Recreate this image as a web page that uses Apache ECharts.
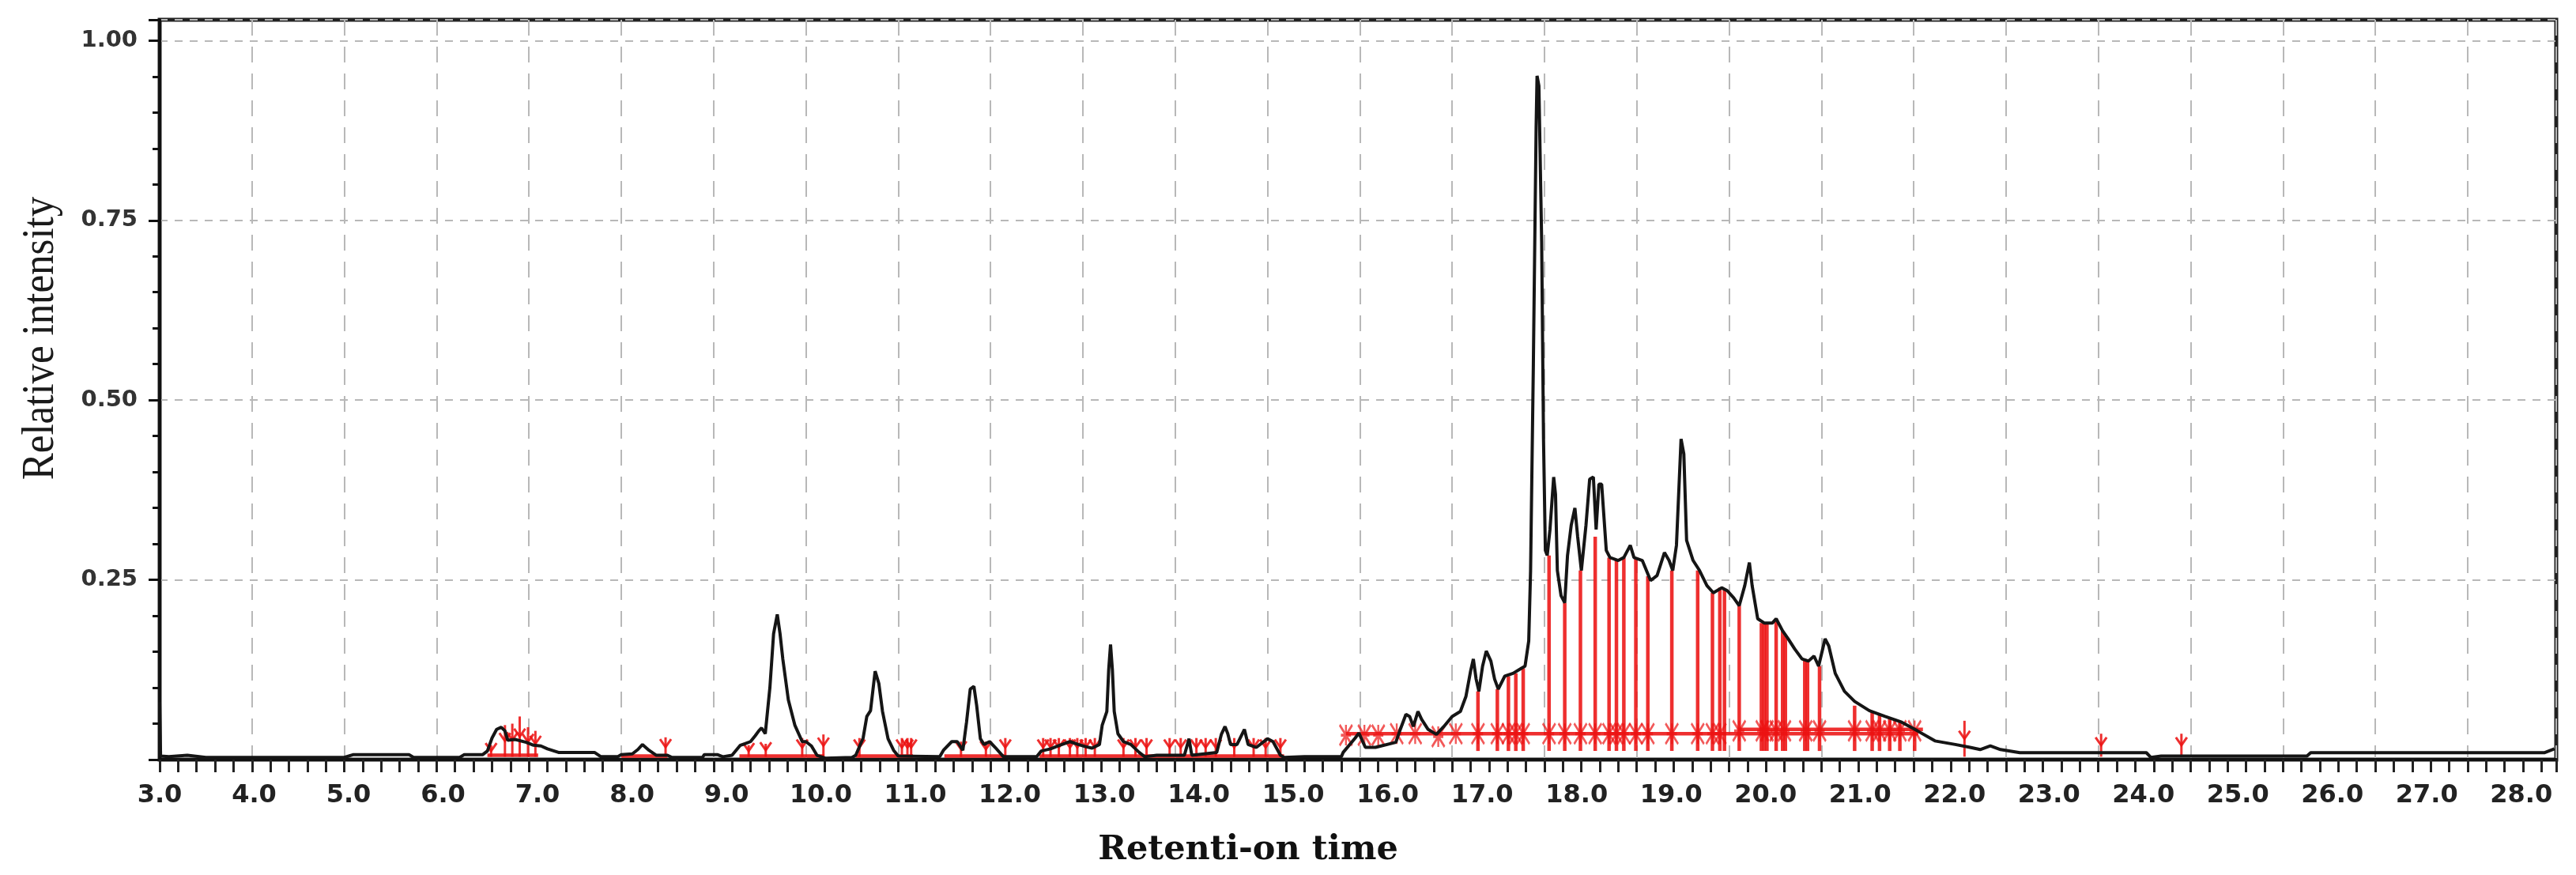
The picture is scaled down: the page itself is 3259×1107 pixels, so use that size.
<!DOCTYPE html>
<html><head><meta charset="utf-8">
<script src="https://cdn.jsdelivr.net/npm/echarts@6/dist/echarts.min.js"></script>
<style>html,body{margin:0;padding:0;background:#fff}#c{width:3259px;height:1107px}</style>
</head><body><div id="c"></div>
<script>
// ---- tick labels ----
const xTickLabels = ['3.0','4.0','5.0','6.0','7.0','8.0','9.0','10.0','11.0','12.0','13.0','14.0','15.0','16.0','17.0','18.0','19.0','20.0','21.0','22.0','23.0','24.0','25.0','26.0','27.0','28.0'];
const yTickLabels = ['0.25','0.50','0.75','1.00'];

// ---- chromatogram trace [retention time, relative intensity] ----
const traceEarly = [[3.0,0.08],[3.01,0.005],[3.1,0.004],[3.3,0.006],[3.5,0.003],[4.0,0.003],[4.5,0.003],[5.0,0.003],[5.1,0.007],[5.7,0.007],[5.75,0.003],[6.25,0.003],[6.3,0.007],[6.5,0.007],[6.55,0.012],[6.6,0.03],[6.65,0.042],[6.70,0.045],[6.74,0.04],[6.77,0.027],[6.85,0.028],[6.97,0.024],[7.05,0.02],[7.13,0.019],[7.2,0.015],[7.32,0.01],[7.71,0.01],[7.78,0.004],[7.96,0.004],[8.0,0.007],[8.12,0.008],[8.18,0.014],[8.23,0.021],[8.3,0.013],[8.38,0.006],[8.5,0.006],[8.55,0.003],[8.88,0.003],[8.9,0.007],[9.04,0.007],[9.1,0.004]];
const traceMid = [[9.2,0.006],[9.29,0.02],[9.34,0.022],[9.4,0.025],[9.45,0.033],[9.49,0.04],[9.52,0.044],[9.56,0.036],[9.61,0.1],[9.65,0.175],[9.69,0.202],[9.72,0.175],[9.75,0.14],[9.81,0.083],[9.88,0.048],[9.96,0.025],[10.0,0.025],[10.06,0.019],[10.12,0.006],[10.21,0.002],[10.5,0.003],[10.54,0.006],[10.62,0.03],[10.66,0.06],[10.7,0.068],[10.75,0.123],[10.79,0.106],[10.83,0.067],[10.89,0.029],[10.95,0.013],[11.0,0.005],[11.45,0.004],[11.49,0.013],[11.58,0.025],[11.64,0.025],[11.7,0.013],[11.74,0.052],[11.78,0.098],[11.82,0.102],[11.85,0.075],[11.89,0.029],[11.93,0.021],[11.99,0.025],[12.05,0.017],[12.14,0.004],[12.5,0.004],[12.55,0.012],[12.65,0.015],[12.75,0.02],[12.86,0.025],[12.95,0.021],[13.03,0.018],[13.1,0.016],[13.18,0.021],[13.21,0.048],[13.26,0.067],[13.28,0.125],[13.3,0.16],[13.32,0.125],[13.34,0.067],[13.38,0.036],[13.44,0.025],[13.52,0.021],[13.61,0.01],[13.67,0.004],[13.8,0.006],[14.1,0.006],[14.15,0.029],[14.18,0.006],[14.45,0.01],[14.5,0.035],[14.54,0.046],[14.57,0.036],[14.6,0.021],[14.67,0.021],[14.75,0.042],[14.79,0.021],[14.88,0.017],[15.0,0.029],[15.06,0.025],[15.14,0.006],[15.18,0.003],[15.4,0.004],[15.8,0.004]];
const traceMain = [[15.82,0.01],[15.95,0.03],[15.99,0.037],[16.06,0.017],[16.17,0.017],[16.39,0.024],[16.43,0.039],[16.5,0.063],[16.54,0.06],[16.58,0.046],[16.63,0.067],[16.67,0.056],[16.74,0.042],[16.83,0.035],[16.91,0.046],[17.0,0.06],[17.09,0.067],[17.15,0.088],[17.2,0.123],[17.23,0.14],[17.26,0.112],[17.29,0.095],[17.33,0.13],[17.37,0.151],[17.42,0.137],[17.46,0.112],[17.5,0.098],[17.57,0.116],[17.66,0.12],[17.75,0.127],[17.79,0.13],[17.83,0.165],[17.85,0.263],[17.88,0.55],[17.91,0.88],[17.92,0.951],[17.94,0.937],[17.97,0.72],[17.99,0.446],[18.01,0.291],[18.03,0.284],[18.06,0.32],[18.1,0.393],[18.12,0.369],[18.14,0.263],[18.18,0.228],[18.22,0.218],[18.25,0.284],[18.29,0.326],[18.33,0.35],[18.36,0.31],[18.4,0.263],[18.45,0.326],[18.49,0.39],[18.53,0.393],[18.56,0.32],[18.59,0.383],[18.62,0.383],[18.67,0.291],[18.71,0.281],[18.8,0.277],[18.86,0.281],[18.93,0.298],[18.97,0.281],[19.06,0.277],[19.15,0.249],[19.22,0.256],[19.3,0.288],[19.35,0.277],[19.39,0.263],[19.43,0.298],[19.48,0.446],[19.51,0.425],[19.54,0.305],[19.61,0.277],[19.68,0.263],[19.76,0.242],[19.83,0.232],[19.92,0.239],[19.98,0.235],[20.05,0.225],[20.11,0.214],[20.17,0.242],[20.22,0.274],[20.25,0.242],[20.31,0.196],[20.38,0.19],[20.47,0.19],[20.51,0.196],[20.58,0.179],[20.64,0.168],[20.71,0.154],[20.79,0.14],[20.86,0.137],[20.92,0.144],[20.97,0.13],[21.04,0.168],[21.08,0.158],[21.15,0.12],[21.25,0.095],[21.36,0.081],[21.52,0.068],[21.69,0.06],[21.87,0.052],[22.04,0.04]];
const traceLate = [[22.23,0.026],[22.45,0.021],[22.61,0.017],[22.72,0.014],[22.83,0.019],[22.94,0.014],[23.15,0.0096],[24.52,0.0096],[24.57,0.003],[24.68,0.005],[26.26,0.005],[26.3,0.0096],[28.83,0.0096],[28.94,0.015]];

// ---- integration marks (red) ----
const peakLineBase = 0.012;
const peakMarks = [[17.28,0.095],[17.49,0.098],[17.61,0.116],[17.69,0.12],[17.77,0.127],[18.05,0.284],[18.22,0.218],[18.39,0.263],[18.55,0.31],[18.70,0.281],[18.78,0.277],[18.86,0.281],[18.99,0.281],[19.12,0.255],[19.38,0.263],[19.66,0.263],[19.82,0.232],[19.90,0.239],[19.95,0.237],[20.11,0.214],[20.35,0.19],[20.38,0.19],[20.41,0.19],[20.51,0.196],[20.58,0.179],[20.61,0.172],[20.82,0.14],[20.85,0.137],[20.98,0.13],[21.36,0.075],[21.55,0.066],[21.63,0.062],[21.74,0.058],[21.85,0.052],[22.01,0.042]];
const flagMarks = [[6.59,0.02],[6.74,0.048],[6.82,0.05],[6.9,0.06],[6.99,0.045],[7.07,0.04],[8.48,0.031],[9.38,0.02],[9.565,0.022],[9.96,0.03],[10.19,0.035],[10.58,0.03],[11.04,0.03],[11.1,0.03],[11.14,0.03],[11.68,0.025],[11.95,0.025],[12.16,0.03],[12.57,0.03],[12.65,0.03],[12.74,0.03],[12.86,0.03],[12.94,0.03],[13.03,0.03],[13.13,0.03],[13.44,0.03],[13.57,0.03],[13.69,0.03],[13.94,0.03],[14.06,0.03],[14.23,0.03],[14.33,0.03],[14.44,0.03],[14.64,0.03],[14.85,0.03],[14.98,0.03],[15.14,0.03],[22.55,0.054],[24.03,0.036],[24.9,0.036]];
const crossMarks = [[15.85,0.034],[16.05,0.034],[16.2,0.034],[16.4,0.036],[16.6,0.036],[16.85,0.032],[17.04,0.036],[17.28,0.036],[17.49,0.036],[17.61,0.036],[17.69,0.036],[17.77,0.036],[18.05,0.036],[18.22,0.036],[18.39,0.036],[18.55,0.036],[18.70,0.036],[18.78,0.036],[18.86,0.036],[18.99,0.036],[19.12,0.036],[19.38,0.036],[19.66,0.036],[19.82,0.036],[19.90,0.036],[20.11,0.04],[20.36,0.04],[20.41,0.04],[20.51,0.04],[20.6,0.04],[20.83,0.04],[20.98,0.04],[21.36,0.04],[21.55,0.04],[21.63,0.04],[21.74,0.04],[21.85,0.04],[22.01,0.04]];
const bandSegments = [[15.85,22.05,0.036],[20.1,22.1,0.042],[6.55,7.1,0.006],[8.0,8.5,0.005],[9.28,10.2,0.005],[10.54,11.16,0.005],[11.5,12.16,0.005],[12.53,15.18,0.005]];

const RED = 'rgba(236,18,18,0.88)';
const chart = echarts.init(document.getElementById('c'), null, {renderer: 'canvas'});

function vLine(params, api) {
  const a = api.coord([api.value(0), api.value(1)]);
  const b = api.coord([api.value(0), api.value(2)]);
  return {type: 'line', shape: {x1: a[0], y1: a[1], x2: b[0], y2: b[1]}, style: {stroke: RED, lineWidth: 4.5}};
}
function hLine(params, api) {
  const a = api.coord([api.value(0), api.value(2)]);
  const b = api.coord([api.value(1), api.value(2)]);
  return {type: 'line', shape: {x1: a[0], y1: a[1], x2: b[0], y2: b[1]}, style: {stroke: RED, lineWidth: 4.5}};
}
function flag(params, api) {
  const a = api.coord([api.value(0), 0.004]);
  const b = api.coord([api.value(0), api.value(1)]);
  const m = (a[1] + b[1]) / 2;
  return {type: 'group', children: [
    {type: 'line', shape: {x1: a[0], y1: a[1], x2: b[0], y2: b[1]}, style: {stroke: RED, lineWidth: 3}},
    {type: 'polyline', shape: {points: [[a[0]-7, m-10], [a[0], m], [a[0]+7, m-10]]}, style: {stroke: RED, lineWidth: 3, fill: null}}
  ]};
}

const option = {
  animation: false,
  backgroundColor: '#fff',
  grid: {left: 202, right: 25, top: 25, bottom: 146, show: true, borderColor: '#222', borderWidth: 5},
  xAxis: [
    {type: 'value', min: 3, max: 28.96, interval: 1, position: 'bottom',
     axisLine: {show: true, onZero: false, lineStyle: {color: '#111', width: 4}},
     axisTick: {show: true, inside: false, length: 16, lineStyle: {color: '#222', width: 3}},
     minorTick: {show: true, splitNumber: 5, length: 16, lineStyle: {color: '#222', width: 3}},
     axisLabel: {show: false},
     splitLine: {show: true, lineStyle: {type: [20, 14], color: '#b8b8b8', width: 2}}},
    {type: 'value', min: 3, max: 28.37, interval: 1, position: 'bottom', gridIndex: 0,
     axisLine: {show: false, onZero: false}, axisTick: {show: false}, splitLine: {show: false},
     axisLabel: {show: true, margin: 30, fontFamily: 'DejaVu Sans', fontWeight: 'bold', fontSize: 32, color: '#222',
       formatter: function (v) { const r = Math.round(v); return Math.abs(v - r) < 1e-6 && xTickLabels[r - 3] ? xTickLabels[r - 3] : ''; }}}
  ],
  yAxis: {type: 'value', min: 0, max: 1.029, interval: 0.25,
    axisLine: {show: true, lineStyle: {color: '#111', width: 4}},
    axisTick: {show: true, length: 14, lineStyle: {color: '#111', width: 3}},
    minorTick: {show: true, splitNumber: 5, length: 9, lineStyle: {color: '#111', width: 3}},
    axisLabel: {margin: 28, fontFamily: 'DejaVu Sans', fontWeight: 'bold', fontSize: 29, color: '#333',
      formatter: function (v) { const k = Math.round(v / 0.25); return Math.abs(v - k * 0.25) < 1e-6 && k >= 1 ? yTickLabels[k - 1] : ''; }},
    splitLine: {show: true, lineStyle: {type: [10, 9], color: '#b8b8b8', width: 2}}},
  graphic: [
    {type: 'text', x: 52, y: 428, rotation: Math.PI / 2, scaleX: 0.88,
     style: {text: 'Relative intensity', fontFamily: 'Liberation Serif', fontSize: 58, fill: '#1a1a1a', align: 'center', verticalAlign: 'middle', textAlign: 'center', textVerticalAlign: 'middle'}},
    {type: 'text', x: 1579, y: 1076,
     style: {text: 'Retenti-on time', fontFamily: 'DejaVu Serif', fontWeight: 'bold', fontSize: 43, fill: '#111', align: 'center', verticalAlign: 'middle', textAlign: 'center', textVerticalAlign: 'middle'}}
  ],
  series: [
    {type: 'custom', name: 'baselines', xAxisIndex: 0, renderItem: hLine, encode: {x: [0, 1], y: 2}, data: bandSegments, z: 3},
    {type: 'custom', name: 'peak marks', xAxisIndex: 0, renderItem: vLine, encode: {x: 0, y: [1, 2]},
     data: peakMarks.map(p => [p[0], peakLineBase, p[1]]), z: 3},
    {type: 'custom', name: 'flags', xAxisIndex: 0, renderItem: flag, encode: {x: 0, y: 1}, data: flagMarks, z: 4},
    {type: 'scatter', name: 'cross', xAxisIndex: 0, data: crossMarks, z: 4,
     symbol: 'path://M0,0L10,16M10,0L0,16M5,0L5,16M1,8L9,8', symbolSize: [16, 26],
     itemStyle: {color: 'rgba(0,0,0,0)', borderColor: RED, borderWidth: 3}},
    {type: 'line', name: 'trace', xAxisIndex: 0, data: traceEarly.concat(traceMid, traceMain, traceLate),
     showSymbol: false, symbol: 'none', lineStyle: {color: '#151515', width: 4}, z: 5}
  ]
};
chart.setOption(option);
</script>
</body></html>
